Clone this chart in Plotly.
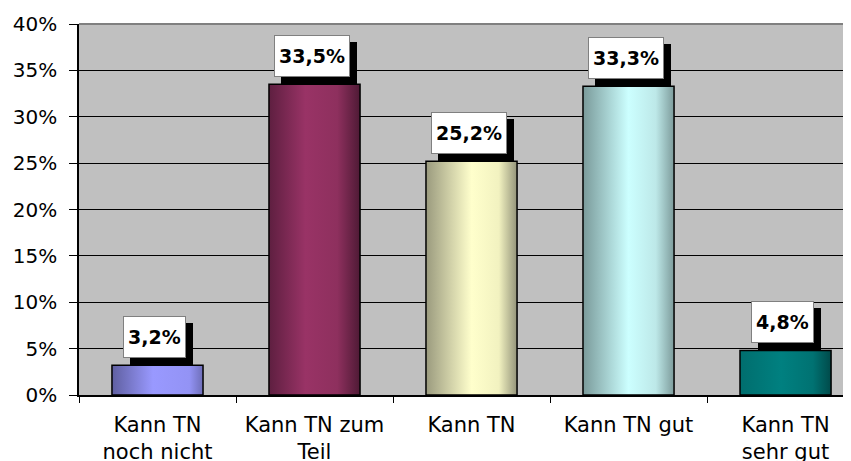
import plotly.graph_objects as go

# Werte aus der Grafik
categories = ["Kann TN<br>noch nicht", "Kann TN zum<br>Teil", "Kann TN",
              "Kann TN gut", "Kann TN<br>sehr gut"]
values = [0.032, 0.335, 0.252, 0.333, 0.048]
y_ticks = [0, 0.05, 0.10, 0.15, 0.20, 0.25, 0.30, 0.35, 0.40]

# Verlauf je Balken (links -> rechts)
bar_gradients = [
    [[0, "#5f5fa0"], [0.45, "#9999ff"], [0.85, "#9393f5"], [1, "#6e6eb8"]],
    [[0, "#5e1f40"], [0.4, "#993366"], [0.75, "#8e305e"], [1, "#4f1a35"]],
    [[0, "#9a9a7e"], [0.5, "#ffffcc"], [0.8, "#f2f2c0"], [1, "#94947a"]],
    [[0, "#7a9a9a"], [0.5, "#ccffff"], [0.8, "#bde8e8"], [1, "#7d9b9b"]],
    [[0, "#006e6e"], [0.45, "#008080"], [0.8, "#007272"], [1, "#004a4a"]],
]
bar_half = 0.29

fig = go.Figure()

for i, (v, grad) in enumerate(zip(values, bar_gradients)):
    fig.add_trace(go.Scatter(
        x=[i - bar_half, i - bar_half, i + bar_half, i + bar_half, i - bar_half],
        y=[0, v, v, 0, 0],
        mode="lines",
        fill="toself",
        fillgradient=dict(type="horizontal", colorscale=grad),
        line=dict(color="black", width=1.5),
        hoverinfo="skip",
        showlegend=False,
    ))

    label = f"{v * 100:.1f}".replace(".", ",") + "%"
    # Schatten
    fig.add_annotation(
        x=i, y=v, text=label, showarrow=False,
        xanchor="center", yanchor="bottom",
        xshift=4, yshift=0,
        font=dict(family="DejaVu Sans", size=19, color="black", weight="bold"),
        bgcolor="black", bordercolor="black", borderwidth=1, borderpad=4,
        height=32,
    )
    # Etikett
    fig.add_annotation(
        x=i, y=v, text=label, showarrow=False,
        xanchor="center", yanchor="bottom",
        xshift=-3, yshift=7,
        font=dict(family="DejaVu Sans", size=19, color="black", weight="bold"),
        bgcolor="white", bordercolor="#808080", borderwidth=1, borderpad=4,
        height=32,
    )

# obere Rahmenlinie
fig.add_shape(type="line", xref="paper", yref="paper", x0=0, x1=1, y0=1, y1=1,
              line=dict(color="#808080", width=2))

fig.update_xaxes(
    range=[-0.5, 4.417],
    tickmode="array", tickvals=list(range(len(categories))), ticktext=categories,
    ticks="", showline=True, linecolor="black", linewidth=1.5,
    showgrid=False, zeroline=False, automargin=False,
    minor=dict(tickmode="linear", tick0=-0.5, dtick=1, ticks="outside",
               ticklen=6, tickcolor="black", tickwidth=1),
    tickfont=dict(family="DejaVu Sans", size=21, color="black"),
    ticklabelstandoff=10,
)
fig.update_yaxes(
    range=[0, 0.4], tickmode="array", tickvals=y_ticks, tickformat=".0%",
    showgrid=True, gridcolor="black", gridwidth=1,
    showline=True, linecolor="black", linewidth=1.5,
    ticks="outside", ticklen=8, tickcolor="black",
    zeroline=False, automargin=False,
    tickfont=dict(family="DejaVu Sans", size=20, color="black"),
    ticklabelstandoff=8,
)

# Seite hat 8px Rand -> Abmessungen ausgleichen
fig.update_layout(
    width=843, height=453,
    margin=dict(l=71, r=0, t=16, b=66),
    plot_bgcolor="#c0c0c0",
    paper_bgcolor="white",
    separators=",.",
    showlegend=False,
)

fig.write_html("out.html")
